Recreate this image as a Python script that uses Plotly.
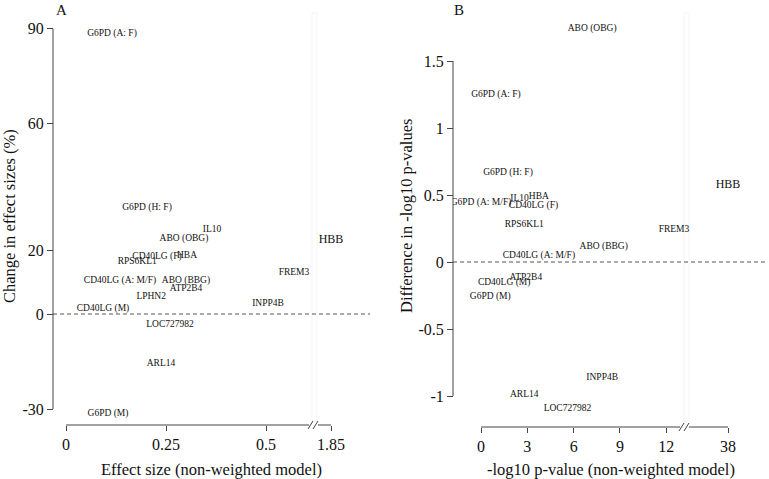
import plotly.graph_objects as go

W, H = 769, 479
FONT = "Liberation Serif, Times New Roman, serif"

# ---------------- Panel A data ----------------
genes_a = ["G6PD (A: F)", "G6PD (H: F)", "IL10", "ABO (OBG)", "HBB", "CD40LG (F)", "HBA",
           "RPS6KL1", "FREM3", "CD40LG (A: M/F)", "ABO (BBG)", "ATP2B4", "LPHN2", "INPP4B",
           "CD40LG (M)", "LOC727982", "ARL14", "G6PD (M)"]
effect_size_a = [0.115, 0.2025, 0.365, 0.295, 1.85, 0.2275, 0.3025,
                 0.178, 0.57, 0.135, 0.30, 0.30, 0.213, 0.505,
                 0.0925, 0.26, 0.2375, 0.105]
change_pct_a = [88.3, 33.4, 26.5, 23.7, 23.3, 18.0, 18.3,
                16.4, 12.9, 10.4, 10.4, 7.9, 5.4, 3.2,
                1.6, -3.2, -15.5, -31.5]
xticks_a = [0, 0.25, 0.5, 1.85]
xtick_labels_a = ["0", "0.25", "0.5", "1.85"]
yticks_a = [-30, 0, 20, 60, 90]
ytick_labels_a = ["-30", "0", "20", "60", "90"]

# ---------------- Panel B data ----------------
genes_b = ["ABO (OBG)", "G6PD (A: F)", "G6PD (H: F)", "G6PD (A: M/F)", "IL10", "HBA", "CD40LG (F)",
           "HBB", "RPS6KL1", "FREM3", "ABO (BBG)", "CD40LG (A: M/F)", "ATP2B4", "CD40LG (M)",
           "G6PD (M)", "INPP4B", "ARL14", "LOC727982"]
neglogp_b = [7.2, 0.97, 1.75, 0.0, 2.5, 3.75, 3.4,
             38, 2.8, 12.5, 7.95, 3.75, 2.9, 1.5,
             0.6, 7.85, 2.8, 5.6]
diff_b = [1.74, 1.246, 0.664, 0.44, 0.47, 0.485, 0.418,
          0.575, 0.276, 0.239, 0.112, 0.045, -0.12, -0.157,
          -0.26, -0.866, -0.99, -1.097]
xticks_b = [0, 3, 6, 9, 12, 38]
xtick_labels_b = ["0", "3", "6", "9", "12", "38"]
yticks_b = [-1, -0.5, 0, 0.5, 1, 1.5]
ytick_labels_b = ["-1", "-0.5", "0", "0.5", "1", "1.5"]

# ---------------- broken-axis mapping ----------------
BRK_A, HI_A = 0.62, 0.6625      # values above break -> placed at 1.85 position
BRK_B, HI_B = 13.0, 16.0


def map_a(v):
    return v if v < BRK_A else HI_A + (v - 1.85) * 0.02


def map_b(v):
    return v if v < BRK_B else HI_B + (v - 38) * 0.1


def px(x):
    return x / W


def py(y):
    return 1 - y / H


fig = go.Figure()

sizes_a = [12 if g == "HBB" else 9.5 for g in genes_a]
sizes_b = [12 if g == "HBB" else 9.5 for g in genes_b]

fig.add_trace(go.Scatter(
    x=[map_a(v) for v in effect_size_a], y=change_pct_a, text=genes_a,
    mode="text", textposition="middle center",
    textfont=dict(family=FONT, size=sizes_a, color="#111111"),
    xaxis="x", yaxis="y", showlegend=False, hoverinfo="text"))

fig.add_trace(go.Scatter(
    x=[map_b(v) for v in neglogp_b], y=diff_b, text=genes_b,
    mode="text", textposition="middle center",
    textfont=dict(family=FONT, size=sizes_b, color="#111111"),
    xaxis="x2", yaxis="y2", showlegend=False, hoverinfo="text"))

AX = "#444444"
tickfont = dict(family=FONT, size=16, color="#111111")
common = dict(showgrid=False, zeroline=False, showline=False, ticks="outside",
              tickcolor=AX, tickwidth=1, tickfont=tickfont)

ydom = [py(418), py(14)]

fig.update_layout(
    width=W, height=H, margin=dict(l=0, r=0, t=0, b=0),
    paper_bgcolor="white", plot_bgcolor="white",
    xaxis=dict(domain=[px(53), px(370)], range=[(53 - 66) / 400, (370 - 66) / 400],
               anchor="free", position=py(425),
               tickvals=[map_a(v) for v in xticks_a], ticktext=xtick_labels_a,
               ticklen=5, **common),
    yaxis=dict(domain=ydom, range=[(314 - 418) / 3.17, (314 - 14) / 3.17],
               anchor="free", position=px(53),
               tickvals=yticks_a, ticktext=ytick_labels_a, ticklen=6, **common),
    xaxis2=dict(domain=[px(453), px(768)], range=[(453 - 481) / 15.44, (768 - 481) / 15.44],
                anchor="free", position=py(427),
                tickvals=[map_b(v) for v in xticks_b], ticktext=xtick_labels_b,
                ticklen=5, **common),
    yaxis2=dict(domain=ydom, range=[(262 - 418) / 134, (262 - 14) / 134],
                anchor="free", position=px(453),
                tickvals=yticks_b, ticktext=ytick_labels_b, ticklen=6, **common),
)

shapes = []
# faint break bands
for x0, x1 in [(312, 317), (684, 689)]:
    shapes.append(dict(type="rect", xref="paper", yref="paper",
                       x0=px(x0), x1=px(x1), y0=py(421), y1=py(13),
                       fillcolor="white", line=dict(color="#f4f4f4", width=1), layer="below"))

# dashed zero lines
for xr, yr in [("x domain", "y"), ("x2 domain", "y2")]:
    shapes.append(dict(type="line", xref=xr, yref=yr, x0=0, x1=1, y0=0, y1=0,
                       line=dict(color="#555555", width=1, dash="4px,3px")))

# y axis lines (from lowest to highest tick)
shapes.append(dict(type="line", xref="paper", yref="y", x0=px(53), x1=px(53),
                   y0=min(yticks_a), y1=max(yticks_a), line=dict(color=AX, width=1)))
shapes.append(dict(type="line", xref="paper", yref="y2", x0=px(453), x1=px(453),
                   y0=min(yticks_b), y1=max(yticks_b), line=dict(color=AX, width=1)))


def xline(xref, a, b, ypix):
    return dict(type="line", xref=xref, yref="paper", x0=a, x1=b, y0=py(ypix), y1=py(ypix),
                line=dict(color=AX, width=1))


# Panel A: 0 -> break, break -> 1.85
shapes.append(xline("x", 0, (309 - 66) / 400, 425))
shapes.append(xline("x", (318 - 66) / 400, map_a(1.85), 425))
for sx in (308, 313):
    shapes.append(dict(type="line", xref="paper", yref="paper",
                       x0=px(sx), x1=px(sx + 5), y0=py(429), y1=py(421),
                       line=dict(color=AX, width=1)))
# Panel B
shapes.append(xline("x2", 0, (680 - 481) / 15.44, 427))
shapes.append(xline("x2", (689 - 481) / 15.44, map_b(38), 427))
for sx in (679, 684):
    shapes.append(dict(type="line", xref="paper", yref="paper",
                       x0=px(sx), x1=px(sx + 5), y0=py(431), y1=py(423),
                       line=dict(color=AX, width=1)))

fig.update_layout(shapes=shapes)

tf = dict(family=FONT, size=16.5, color="#111111")


def ann(text, x, y, angle=0, size=16.5):
    return dict(text=text, x=px(x), y=py(y), xref="paper", yref="paper", showarrow=False,
                xanchor="center", yanchor="middle", textangle=angle,
                font=dict(family=FONT, size=size, color="#111111"))


fig.update_layout(annotations=[
    ann("A", 61, 10, size=15),
    ann("B", 459, 10, size=15),
    ann("Change in effect sizes (%)", 10, 216, -90),
    ann("Difference in -log10 p-values", 407, 216, -90),
    ann("Effect size (non-weighted model)", 212, 469),
    ann("-log10 p-value (non-weighted model)", 611, 469),
])

fig.write_html("out.html", config={"displayModeBar": False},
               post_script="document.body.style.margin='0';")
